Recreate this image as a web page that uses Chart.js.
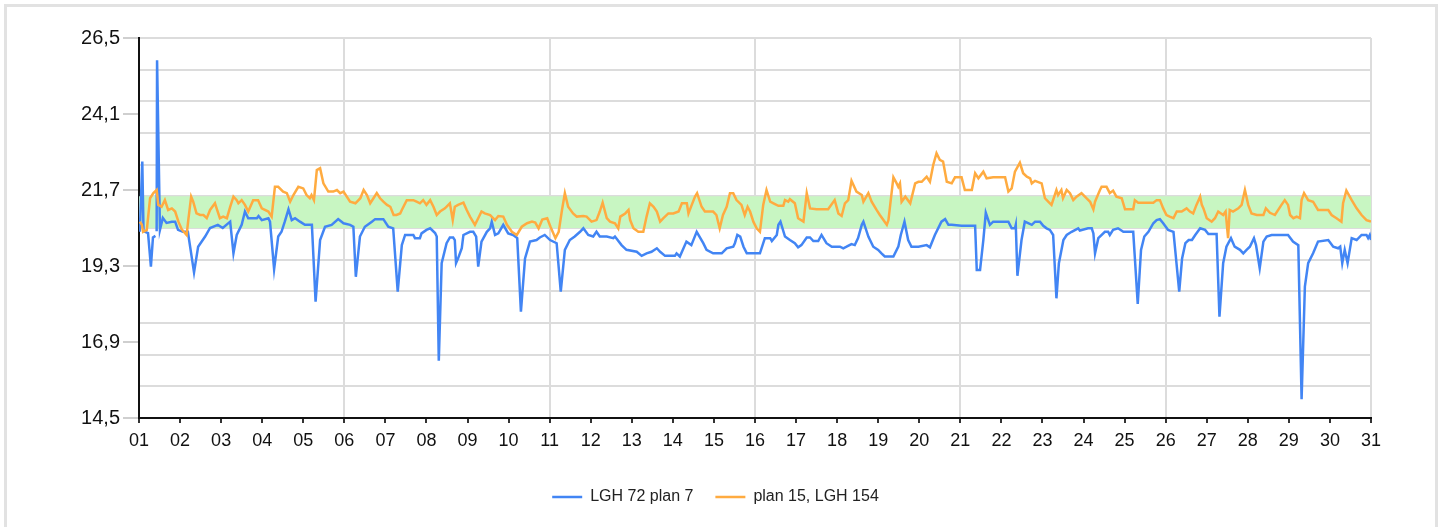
<!DOCTYPE html>
<html>
<head>
<meta charset="utf-8">
<script src="https://cdn.jsdelivr.net/npm/chart.js@4/dist/chart.umd.min.js"></script>
<style>
  html, body { margin: 0; padding: 0; background: #fff; }
  #frame { position: absolute; left: 4px; top: 4px; width: 1428px; height: 540px; border: 3px solid #e2e2e2; }
  #wrap { position: absolute; left: 0; top: 0; width: 1443px; height: 527px; }
</style>
</head>
<body>
<div id="frame"></div>
<div id="wrap"><canvas id="chart"></canvas></div>
<script>
// [dag, temperatur]
const lgh72 = [
  [1.02,20.38],[1.08,22.6],[1.11,20.4],[1.22,20.34],[1.29,19.28],[1.34,20.2],[1.40,20.25],[1.42,null],[1.43,20.4],[1.44,25.8],
  [1.51,20.44],[1.58,20.82],[1.67,20.66],[1.80,20.7],[1.88,20.7],[1.95,20.44],[2.07,20.38],[2.19,20.38],[2.34,19.1],[2.44,19.91],
  [2.61,20.23],[2.73,20.5],[2.92,20.6],[3.04,20.5],[3.22,20.7],[3.30,19.7],[3.38,20.28],[3.50,20.6],[3.58,21.02],[3.66,20.81],
  [3.87,20.81],[3.91,20.88],[3.99,20.75],[4.15,20.81],[4.19,20.7],[4.29,19.2],[4.39,20.23],[4.47,20.38],[4.55,20.7],[4.64,21.09],
  [4.72,20.75],[4.80,20.81],[4.92,20.7],[5.04,20.6],[5.21,20.6],[5.30,18.17],[5.41,20.12],[5.53,20.54],[5.69,20.6],[5.85,20.78],
  [5.98,20.65],[6.14,20.6],[6.22,20.54],[6.28,18.96],[6.38,20.23],[6.50,20.54],[6.67,20.7],[6.75,20.78],[6.95,20.78],[7.07,20.54],
  [7.19,20.49],[7.30,18.49],[7.40,19.96],[7.48,20.28],[7.68,20.28],[7.72,20.18],[7.84,20.18],[7.88,20.33],[8.00,20.44],[8.09,20.49],
  [8.21,20.34],[8.25,20.23],[8.30,16.31],[8.37,19.39],[8.49,20.02],[8.57,20.2],[8.65,20.2],[8.69,20.12],[8.72,19.39],[8.77,19.54],
  [8.86,19.86],[8.90,20.28],[9.06,20.38],[9.14,20.38],[9.21,20.23],[9.26,19.28],[9.34,20.07],[9.47,20.38],[9.55,20.49],[9.59,20.7],
  [9.67,20.28],[9.75,20.33],[9.87,20.6],[9.99,20.33],[10.11,20.28],[10.21,20.18],[10.30,17.86],[10.40,19.54],[10.52,20.07],[10.68,20.12],
  [10.76,20.2],[10.88,20.28],[11.01,20.12],[11.17,20.02],[11.27,18.49],[11.37,19.81],[11.49,20.12],[11.61,20.23],[11.74,20.38],[11.82,20.49],
  [11.94,20.28],[12.06,20.23],[12.14,20.38],[12.22,20.23],[12.39,20.23],[12.55,20.18],[12.59,20.23],[12.75,19.96],[12.87,19.81],[13.12,19.75],
  [13.24,19.62],[13.36,19.7],[13.48,19.75],[13.61,19.86],[13.69,19.75],[13.81,19.62],[14.05,19.62],[14.09,19.7],[14.17,19.6],[14.33,20.07],
  [14.45,19.96],[14.58,20.38],[14.74,20.02],[14.82,19.81],[14.98,19.7],[15.19,19.7],[15.31,19.86],[15.47,19.91],[15.51,20.02],[15.57,20.28],
  [15.64,20.23],[15.72,19.91],[15.80,19.7],[16.12,19.7],[16.24,20.18],[16.37,20.18],[16.41,20.09],[16.53,20.28],[16.57,20.6],[16.62,20.7],
  [16.73,20.23],[16.85,20.12],[16.97,20.02],[17.05,19.89],[17.13,19.96],[17.26,20.2],[17.34,20.2],[17.42,20.09],[17.54,20.09],[17.62,20.28],
  [17.74,20.02],[17.87,19.91],[18.07,19.91],[18.15,19.86],[18.23,19.91],[18.35,19.99],[18.43,19.96],[18.51,20.18],[18.60,20.6],[18.64,20.7],
  [18.76,20.23],[18.88,19.91],[19.00,19.81],[19.08,19.7],[19.16,19.6],[19.37,19.6],[19.49,19.91],[19.55,20.28],[19.64,20.7],[19.73,20.12],
  [19.81,19.91],[19.98,19.91],[20.18,19.96],[20.26,19.89],[20.38,20.28],[20.54,20.7],[20.63,20.78],[20.71,20.6],[20.79,20.6],[21.03,20.57],
  [21.36,20.57],[21.40,19.17],[21.48,19.17],[21.56,20.12],[21.62,20.98],[21.72,20.6],[21.80,20.7],[22.17,20.7],[22.25,20.49],[22.33,20.49],
  [22.35,20.6],[22.39,18.99],[22.49,20.12],[22.57,20.7],[22.74,20.6],[22.82,20.7],[22.94,20.7],[23.02,20.57],[23.10,20.49],[23.18,20.44],
  [23.26,20.28],[23.34,18.28],[23.40,19.39],[23.51,20.12],[23.59,20.28],[23.71,20.38],[23.87,20.49],[23.91,20.42],[24.11,20.49],[24.20,20.49],
  [24.24,20.33],[24.28,19.7],[24.36,20.18],[24.52,20.38],[24.60,20.38],[24.64,20.28],[24.72,20.44],[24.84,20.49],[24.97,20.38],[25.21,20.38],
  [25.32,18.1],[25.40,19.81],[25.48,20.23],[25.58,20.38],[25.70,20.65],[25.78,20.75],[25.86,20.78],[25.94,20.65],[26.06,20.44],[26.19,20.38],
  [26.33,18.49],[26.40,19.54],[26.48,20.02],[26.56,20.12],[26.64,20.12],[26.72,20.28],[26.84,20.49],[26.96,20.44],[27.04,20.31],[27.24,20.31],
  [27.31,17.7],[27.40,19.39],[27.48,19.91],[27.59,20.18],[27.68,19.91],[27.81,19.81],[27.89,19.7],[27.97,19.81],[28.05,19.91],[28.15,20.18],
  [28.20,19.96],[28.29,19.23],[28.38,20.07],[28.46,20.23],[28.58,20.28],[28.98,20.28],[29.10,20.07],[29.23,19.96],[29.31,15.09],[29.39,18.65],
  [29.47,19.39],[29.59,19.7],[29.71,20.07],[29.96,20.12],[30.08,19.91],[30.20,19.86],[30.25,19.91],[30.30,19.39],[30.36,19.81],[30.43,19.39],
  [30.53,20.18],[30.65,20.12],[30.77,20.28],[30.89,20.28],[30.93,20.18],[30.97,20.28],[31.00,20.12]
];

const plan15 = [
  [1.02,20.7],[1.07,20.6],[1.10,20.38],[1.19,20.44],[1.27,21.44],[1.35,21.6],[1.43,21.7],[1.47,21.23],[1.55,21.17],[1.63,21.38],
  [1.71,21.07],[1.80,21.12],[1.88,21.02],[1.96,20.7],[2.04,20.46],[2.16,20.28],[2.20,20.75],[2.27,21.49],[2.32,21.33],[2.40,20.96],
  [2.49,20.91],[2.57,20.91],[2.65,20.81],[2.73,21.07],[2.85,21.28],[2.89,21.12],[2.97,20.81],[3.05,20.86],[3.14,20.81],[3.22,21.17],
  [3.30,21.49],[3.38,21.38],[3.42,21.28],[3.50,21.38],[3.58,21.23],[3.66,21.02],[3.78,21.38],[3.90,21.38],[3.99,21.12],[4.15,21.02],
  [4.23,20.86],[4.31,21.8],[4.39,21.8],[4.51,21.65],[4.60,21.6],[4.68,21.33],[4.76,21.54],[4.88,21.8],[5.00,21.75],[5.08,21.54],
  [5.16,21.44],[5.20,21.54],[5.26,21.38],[5.33,22.33],[5.41,22.39],[5.49,21.91],[5.61,21.65],[5.73,21.65],[5.82,21.7],[5.90,21.6],
  [5.98,21.65],[6.14,21.33],[6.27,21.28],[6.39,21.44],[6.47,21.7],[6.55,21.54],[6.63,21.28],[6.71,21.44],[6.79,21.6],[6.87,21.44],
  [6.95,21.33],[7.04,21.23],[7.12,21.17],[7.20,20.91],[7.27,20.91],[7.36,20.96],[7.40,21.07],[7.52,21.38],[7.68,21.38],[7.76,21.33],
  [7.84,21.28],[7.92,21.38],[8.00,21.23],[8.09,21.38],[8.17,21.17],[8.25,20.91],[8.33,21.02],[8.45,21.12],[8.57,21.28],[8.64,20.75],
  [8.69,21.17],[8.77,21.23],[8.90,21.3],[8.98,21.07],[9.06,20.86],[9.18,20.6],[9.26,20.81],[9.34,21.02],[9.42,20.96],[9.55,20.91],
  [9.67,20.75],[9.75,20.88],[9.87,20.86],[9.96,20.6],[10.08,20.38],[10.20,20.28],[10.32,20.54],[10.45,20.65],[10.57,20.7],[10.65,20.67],
  [10.73,20.49],[10.82,20.77],[10.94,20.81],[11.02,20.54],[11.14,20.18],[11.22,20.38],[11.30,21.07],[11.37,21.6],[11.45,21.17],[11.57,20.96],
  [11.66,20.86],[11.82,20.88],[11.90,20.86],[12.02,20.7],[12.14,20.75],[12.22,21.02],[12.29,21.3],[12.39,20.81],[12.47,20.7],[12.59,20.65],
  [12.67,20.49],[12.72,20.86],[12.84,20.96],[12.92,21.07],[12.96,20.75],[13.04,20.49],[13.16,20.38],[13.28,20.38],[13.36,20.86],[13.44,21.28],
  [13.53,21.17],[13.61,21.02],[13.69,20.7],[13.77,20.81],[13.89,20.96],[14.01,20.96],[14.14,21.02],[14.22,21.28],[14.34,21.28],[14.38,20.96],
  [14.46,21.23],[14.54,21.49],[14.59,21.6],[14.70,21.17],[14.78,21.02],[14.98,21.02],[15.06,20.91],[15.14,20.49],[15.22,20.91],[15.31,21.17],
  [15.39,21.6],[15.47,21.6],[15.55,21.38],[15.67,21.23],[15.75,20.91],[15.82,21.17],[15.88,21.02],[15.96,20.7],[16.04,20.49],[16.12,20.38],
  [16.20,21.23],[16.28,21.7],[16.37,21.33],[16.45,21.28],[16.57,21.2],[16.69,21.2],[16.73,21.38],[16.81,21.33],[16.85,21.41],[16.97,21.28],
  [17.05,20.81],[17.18,20.7],[17.26,21.6],[17.34,21.12],[17.50,21.09],[17.78,21.09],[17.94,21.38],[18.03,20.96],[18.11,20.88],[18.19,21.28],
  [18.27,21.38],[18.35,21.99],[18.47,21.65],[18.60,21.54],[18.64,21.33],[18.76,21.6],[18.84,21.33],[18.96,21.07],[19.04,20.91],[19.21,20.6],
  [19.25,20.75],[19.37,22.1],[19.45,21.91],[19.49,21.8],[19.53,21.91],[19.57,21.33],[19.66,21.49],[19.78,21.28],[19.90,21.91],[19.98,21.96],
  [20.06,21.96],[20.18,22.12],[20.26,21.96],[20.34,22.49],[20.42,22.86],[20.50,22.65],[20.58,22.6],[20.67,21.96],[20.79,21.91],[20.87,22.1],
  [21.03,22.1],[21.11,21.7],[21.28,21.7],[21.36,22.23],[21.44,22.07],[21.56,22.28],[21.64,22.07],[21.80,22.1],[22.09,22.1],[22.17,21.65],
  [22.25,21.75],[22.33,22.28],[22.45,22.56],[22.53,22.23],[22.62,22.12],[22.70,22.07],[22.74,21.91],[22.82,21.99],[22.98,21.91],[23.06,21.44],
  [23.14,21.33],[23.22,21.23],[23.34,21.7],[23.38,21.54],[23.46,21.7],[23.50,21.44],[23.59,21.7],[23.67,21.6],[23.75,21.38],[23.83,21.49],
  [23.95,21.6],[24.07,21.44],[24.16,21.33],[24.24,21.09],[24.28,21.33],[24.40,21.7],[24.44,21.8],[24.56,21.8],[24.64,21.6],[24.72,21.68],
  [24.80,21.49],[24.93,21.44],[25.01,21.09],[25.21,21.09],[25.25,21.38],[25.33,21.3],[25.70,21.3],[25.78,21.38],[25.86,21.38],[25.94,21.12],
  [26.02,20.91],[26.10,20.86],[26.19,20.81],[26.27,21.02],[26.39,21.02],[26.51,21.12],[26.59,21.02],[26.67,20.96],[26.75,21.23],[26.84,21.49],
  [26.88,21.23],[26.92,21.12],[27.00,20.81],[27.12,20.7],[27.20,20.81],[27.28,21.02],[27.40,20.91],[27.46,21.02],[27.52,20.18],[27.56,21.07],
  [27.64,21.02],[27.77,21.12],[27.85,21.23],[27.93,21.7],[28.01,21.23],[28.09,20.96],[28.22,20.91],[28.38,20.91],[28.44,21.12],[28.54,20.98],
  [28.66,20.91],[28.82,21.23],[28.90,21.38],[28.98,21.23],[29.03,20.91],[29.11,20.81],[29.19,20.86],[29.27,20.81],[29.31,21.38],[29.37,21.6],
  [29.47,21.38],[29.59,21.33],[29.71,21.07],[29.96,21.07],[30.04,20.91],[30.16,20.81],[30.28,20.7],[30.32,21.28],[30.40,21.68],[30.53,21.38],
  [30.65,21.12],[30.77,20.91],[30.89,20.75],[31.00,20.7]
];

const seriesNames = ["LGH 72 plan 7", "plan 15, LGH 154"];
const seriesColors = ["#4285f4", "#ffab40"];

// grönt börvärdesband
const bandLow = 20.5;
const bandHigh = 21.5;
const firstDay = 1;
const lastDay = 31;

// y-axel
const yMin = 14.5;
const yMax = 26.5;
const yLabelTicks = [14.5, 16.9, 19.3, 21.7, 24.1, 26.5];
const yGridTicks = [14.5, 15.5, 16.5, 17.5, 18.5, 19.5, 20.5, 21.5, 22.5, 23.5, 24.5, 25.5, 26.5];

const FONT = 'Arial, "Liberation Sans", sans-serif';
const isLabelTick = v => yLabelTicks.some(t => Math.abs(t - v) < 1e-6);
const isGridTick = v => yGridTicks.some(t => Math.abs(t - v) < 1e-6);
const toPoints = arr => arr.map(p => ({ x: p[0], y: p[1] }));

const ctx = document.getElementById("chart").getContext("2d");
new Chart(ctx, {
  type: "line",
  data: {
    datasets: [
      {
        label: seriesNames[0],
        data: toPoints(lgh72),
        borderColor: seriesColors[0],
        backgroundColor: seriesColors[0],
        borderWidth: 2.5,
        pointRadius: 0,
        tension: 0,
        fill: false,
        order: 2
      },
      {
        label: seriesNames[1],
        data: toPoints(plan15),
        borderColor: seriesColors[1],
        backgroundColor: seriesColors[1],
        borderWidth: 2.5,
        pointRadius: 0,
        tension: 0,
        fill: false,
        order: 1
      },
      {
        label: "band",
        data: [{ x: firstDay, y: bandHigh }, { x: lastDay, y: bandHigh }],
        borderWidth: 0,
        borderColor: "rgba(0,0,0,0)",
        backgroundColor: "#c8f6c2",
        pointRadius: 0,
        fill: { value: bandLow },
        order: 10
      }
    ]
  },
  options: {
    responsive: true,
    maintainAspectRatio: false,
    animation: false,
    layout: { padding: { left: 60, right: 72, top: 38, bottom: 12 } },
    plugins: {
      tooltip: { enabled: false },
      legend: {
        position: "bottom",
        labels: {
          usePointStyle: true,
          pointStyle: "line",
          pointStyleWidth: 30,
          padding: 22,
          color: "#222",
          font: { family: FONT, size: 16 },
          filter: item => item.datasetIndex < 2,
          sort: (a, b) => a.datasetIndex - b.datasetIndex
        }
      }
    },
    scales: {
      x: {
        type: "linear",
        min: firstDay,
        max: lastDay,
        afterFit: s => { s.height = 49; },
        border: { color: "#111", width: 2 },
        grid: {
          color: c => ((c.tick.value - 1) % 5 === 0 ? "#dcdcdc" : "rgba(0,0,0,0)"),
          lineWidth: 2,
          tickColor: "#333",
          tickLength: 5
        },
        ticks: {
          stepSize: 1,
          autoSkip: false,
          maxRotation: 0,
          padding: 7,
          color: "#111",
          font: { family: FONT, size: 18 },
          callback: v => String(v).padStart(2, "0")
        }
      },
      y: {
        type: "linear",
        min: yMin,
        max: yMax,
        afterFit: s => { s.width = 79; },
        afterBuildTicks: s => {
          const vals = Array.from(new Set(yGridTicks.concat(yLabelTicks))).sort((a, b) => a - b);
          s.ticks = vals.map(v => ({ value: v }));
        },
        border: { color: "#111", width: 2 },
        grid: {
          color: c => (isGridTick(c.tick.value) ? "#dcdcdc" : "rgba(0,0,0,0)"),
          lineWidth: 2,
          tickColor: c => (isLabelTick(c.tick.value) ? "#cfcfcf" : "rgba(0,0,0,0)"),
          tickLength: 16
        },
        ticks: {
          autoSkip: false,
          padding: 3,
          color: "#111",
          font: { family: FONT, size: 20 },
          callback: v => (isLabelTick(v) ? v.toFixed(1).replace(".", ",") : "")
        }
      }
    }
  }
});
</script>
</body>
</html>
